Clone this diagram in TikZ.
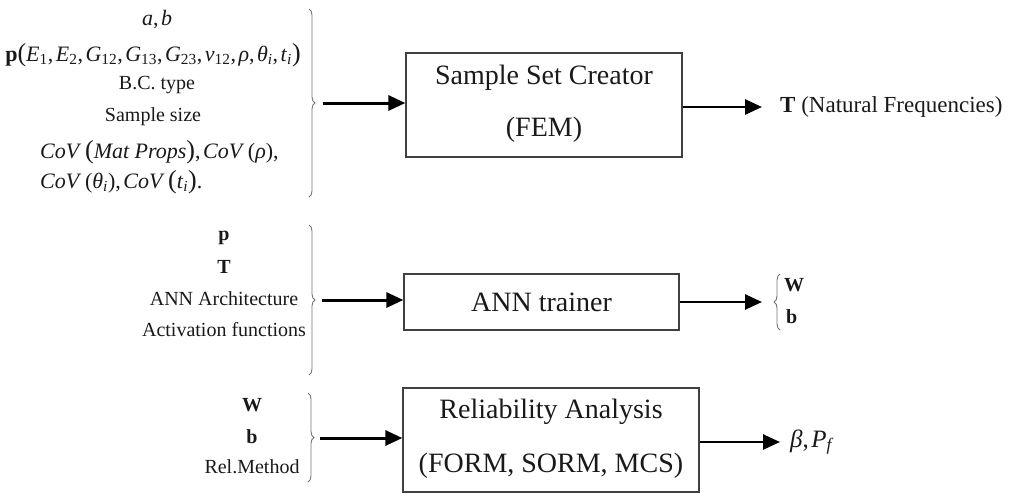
\documentclass[tikz,border=0pt]{standalone}
\usepackage{fontspec}
\setmainfont{Liberation Serif}
\usetikzlibrary{arrows.meta,decorations.pathreplacing}
\newcommand{\itx}[1]{\textit{#1}}
\newcommand{\sbs}[1]{\textsubscript{#1}}
\newcommand{\bpar}[1]{{\fontsize{26}{26}\selectfont#1}}
\newcommand{\cm}{,\hspace{2.5pt}}
\begin{document}
\begin{tikzpicture}[x=1pt,y=-1pt,
  box/.style={draw=black!75, line width=1.3pt, inner sep=0pt},
  flow/.style={line width=3pt, -{Triangle[length=17pt,width=15pt]}},
  brc/.style={draw=black!55, line width=0.9pt, decorate, decoration={brace, amplitude=6pt}},
  lbl/.style={font=\fontsize{20}{24}\selectfont, inner sep=0pt, text=black!90},
  mlbl/.style={font=\fontsize{22}{26}\selectfont, inner sep=0pt, text=black!90},
  outl/.style={font=\fontsize{23}{27}\selectfont, inner sep=0pt, anchor=west, text=black!90}
]
\useasboundingbox (0,0) rectangle (1017,493);

% boxes
\node[box, minimum width=276pt, minimum height=104pt] (box1) at (544,105) {};
\node[font=\fontsize{28}{52}\selectfont, align=center, text=black!90] (box1t) at ([yshift=1.5pt]box1.center) {Sample Set Creator\\(FEM)};
\node[box, minimum width=275pt, minimum height=56pt, font=\fontsize{28}{33}\selectfont, text=black!90] (box2) at (541.5,302) {ANN trainer};
\node[box, minimum width=296pt, minimum height=104pt] (box3) at (551,440) {};
\node[font=\fontsize{28}{54}\selectfont, align=center, text=black!90] (box3t) at ([yshift=1pt]box3.center) {Reliability Analysis\\(FORM, SORM, MCS)};

% inputs block 1
\node[mlbl] (a1) at (157,20) {\itx{a}\cm\itx{b}};
\node[mlbl] (a2) at (153,55) {\textbf{p}\bpar{(}\itx{E}\sbs{1}\cm\itx{E}\sbs{2}\cm\itx{G}\sbs{12}\cm\itx{G}\sbs{13}\cm\itx{G}\sbs{23}\cm\itx{ν}\sbs{12}\cm\itx{ρ}\cm\itx{θ}\sbs{\itx{i}}\cm\itx{t}\sbs{\itx{i}}\bpar{)}};
\node[lbl] (a3) at (157,85) {B.C. type};
\node[lbl] (a4) at (153,117) {Sample size};
\node[mlbl, anchor=west] (a5) at (40,152) {\itx{CoV}\,\bpar{(}\itx{Mat Props}\bpar{)}\cm\itx{CoV}\,(\itx{ρ}),};
\node[mlbl, anchor=west] (a6) at (40,182) {\itx{CoV}\,(\itx{θ}\sbs{\itx{i}})\cm\itx{CoV}\,\bpar{(}\itx{t}\sbs{\itx{i}}\bpar{)}.};
\draw[brc] (309,9) -- (309,197);
\coordinate (t1) at (323,103);

% inputs block 2
\node[lbl] (b1) at (224,238) {\textbf{p}};
\node[lbl] (b2) at (224,267) {\textbf{T}};
\node[lbl] (b3) at (224,299) {ANN Architecture};
\node[lbl] (b4) at (224,330) {Activation functions};
\draw[brc] (309,225) -- (309,375);
\coordinate (t2) at (322,300);

% inputs block 3
\node[lbl] (c1) at (252,405) {\textbf{W}};
\node[lbl] (c2) at (252,437) {\textbf{b}};
\node[lbl] (c3) at (252,467) {Rel.Method};
\draw[brc] (308,393) -- (308,482);
\coordinate (t3) at (320,438);

% input arrows
\draw[flow] (t1) -- (box1.west |- t1);
\draw[flow] (t2) -- (box2.west |- t2);
\draw[flow] (t3) -- (box3.west |- t3);

% outputs
\node[outl] (o1) at (780,107) {\textbf{T} (Natural Frequencies)};
\coordinate (e1) at (762,107);
\draw[flow, line width=2.6pt] (box1.east |- e1) -- (e1);

\coordinate (e2) at (762,302);
\draw[flow, line width=2.6pt] (box2.east |- e2) -- (e2);
\draw[brc] (780,330) -- (780,274);
\node[lbl, anchor=west] (o2a) at (784,285) {\textbf{W}};
\node[lbl, anchor=west] (o2b) at (786,317) {\textbf{b}};

\coordinate (e3) at (780,442);
\draw[flow, line width=2.6pt] (box3.east |- e3) -- (e3);
\node[outl, font=\fontsize{25}{28}\selectfont] (o3) at (790,442) {\itx{β}\cm\itx{P}\sbs{\itx{f}}};
\end{tikzpicture}
\end{document}
